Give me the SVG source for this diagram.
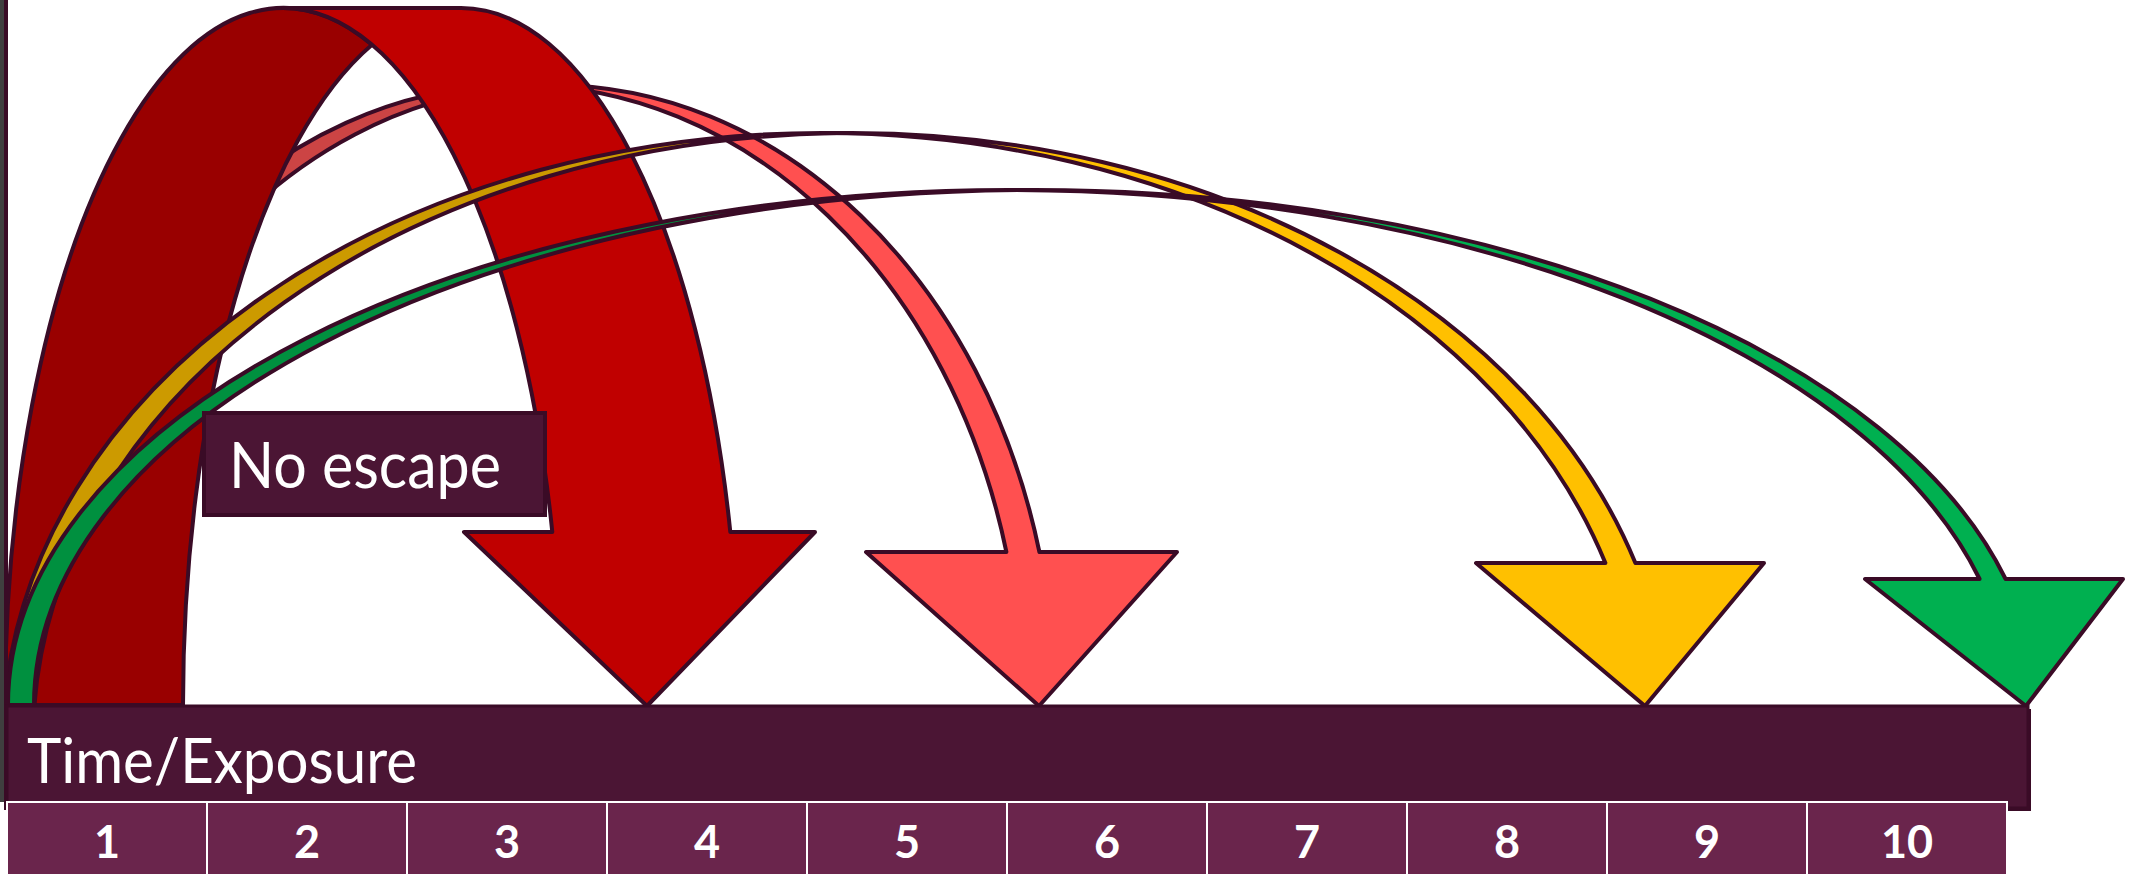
<svg xmlns="http://www.w3.org/2000/svg" width="2141" height="874" viewBox="0 0 2141 874">
<style>
.arw{stroke:#3A0B26;stroke-width:4;stroke-linejoin:round}
.lbl{font-family:Lato,"Liberation Sans",sans-serif;fill:#FFFFFF}
.num{font-family:Lato,"Liberation Sans",sans-serif;font-weight:bold;font-size:45px;fill:#FFFFFF;text-anchor:middle}
.cell{fill:#6A254C;stroke:#FFFFFF;stroke-width:2}
</style>
<rect x="0" y="0" width="2141" height="874" fill="#FFFFFF"/>
<g id="connectors">
  <g id="arrow-salmon">
    <path class="arw" fill="#CC4444" d="M16,705 A503,620 0 0 1 535.5,85.3 A503,620 0 0 0 49,705 Z"/>
    <path class="arw" fill="#FF5050" d="M519,85 L552,85 A503,620 0 0 1 1039.4,552 L1177,552 L1039,706 L866,552 L1006.4,552 A503,620 0 0 0 519,85 Z"/>
  </g>
  <g id="arrow-red">
    <path class="arw" fill="#990000" d="M5,705 A278,697 0 0 1 372,44.7 A278,697 0 0 0 183,705 Z"/>
    <path class="arw" fill="#C00000" d="M283,8 L461,8 A278,697 0 0 1 730.3,532 L815,532 L647,706 L464,532 L552.3,532 A278,697 0 0 0 283,8 Z"/>
  </g>
  <g id="arrow-yellow">
    <path class="arw" fill="#CC9A00" d="M4.4,705 A819,607 0 0 1 837,133.1 A819,607 0 0 0 34.4,705 Z"/>
    <path class="arw" fill="#FFC000" d="M822,133 L852,133 A819,607 0 0 1 1635.4,563 L1764,563 L1645,706 L1476,563 L1605.4,563 A819,607 0 0 0 822,133 Z"/>
  </g>
  <g id="arrow-green">
    <path class="arw" fill="#00903F" d="M8,705 A1001,515 0 0 1 1022,190 A1001,515 0 0 0 34,705 Z"/>
    <path class="arw" fill="#00B050" d="M1009,190 L1035,190 A1001,515 0 0 1 2005.6,579 L2123,579 L2026,706 L1865,579 L1979.6,579 A1001,515 0 0 0 1009,190 Z"/>
  </g>
</g>
<g id="left-edge">
  <rect x="0" y="0" width="4" height="802" fill="#3F3F3F"/>
  <rect x="4" y="0" width="4" height="810" fill="#3A0B26"/>
</g>
<g id="time-bar">
  <rect x="10" y="709" width="2021" height="102" fill="#3A0B26"/>
  <rect x="7" y="706" width="2021" height="102" fill="#4B1534" stroke="#3A0B26" stroke-width="3"/>
  <text class="lbl" x="27" y="783" font-size="62" textLength="390" lengthAdjust="spacingAndGlyphs">Time/Exposure</text>
</g>
<g id="scale">
  <rect class="cell" x="7" y="802" width="200" height="80"/>
  <rect class="cell" x="207" y="802" width="200" height="80"/>
  <rect class="cell" x="407" y="802" width="200" height="80"/>
  <rect class="cell" x="607" y="802" width="200" height="80"/>
  <rect class="cell" x="807" y="802" width="200" height="80"/>
  <rect class="cell" x="1007" y="802" width="200" height="80"/>
  <rect class="cell" x="1207" y="802" width="200" height="80"/>
  <rect class="cell" x="1407" y="802" width="200" height="80"/>
  <rect class="cell" x="1607" y="802" width="200" height="80"/>
  <rect class="cell" x="1807" y="802" width="200" height="80"/>
  <text class="num" x="107" y="858">1</text>
  <text class="num" x="307" y="858">2</text>
  <text class="num" x="507" y="858">3</text>
  <text class="num" x="707" y="858">4</text>
  <text class="num" x="907" y="858">5</text>
  <text class="num" x="1107" y="858">6</text>
  <text class="num" x="1307" y="858">7</text>
  <text class="num" x="1507" y="858">8</text>
  <text class="num" x="1707" y="858">9</text>
  <text class="num" x="1907" y="858">10</text>
</g>
<g id="no-escape">
  <rect x="204" y="413" width="341" height="102" fill="#4B1534" stroke="#3A0B26" stroke-width="4"/>
  <text class="lbl" x="229" y="488" font-size="63" textLength="272" lengthAdjust="spacingAndGlyphs">No escape</text>
</g>
</svg>
